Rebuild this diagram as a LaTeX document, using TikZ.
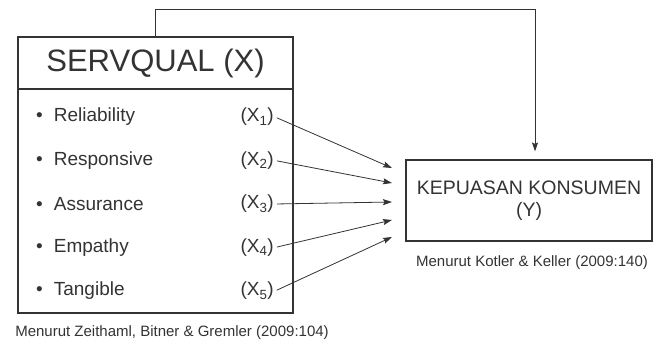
\documentclass[tikz,border=0pt]{standalone}
\usepackage{fontspec}
\setmainfont{Liberation Sans}
\usetikzlibrary{arrows.meta,positioning}
\definecolor{ink}{HTML}{333333}
\begin{document}
\begin{tikzpicture}[x=1pt,y=1pt,ink,
  box/.style={draw,line width=1.1pt,inner sep=0pt},
  arr/.style={line width=0.8pt,-{Stealth[length=9pt,width=6pt,inset=1.5pt]}},
  item/.style={font=\fontsize{19}{23}\selectfont,inner sep=1pt},
  note/.style={font=\fontsize{15}{18}\selectfont}]
\useasboundingbox (0,0) rectangle (655,343);
\node[box,minimum width=275,minimum height=52] (head) at (155.5,280) {\fontsize{31}{36}\selectfont SERVQUAL (X)};
\node[box,minimum width=275,minimum height=224] (body) at (155.5,142) {};
\foreach \i/\name in {1/Reliability,2/Responsive,3/Assurance,4/Empathy,5/Tangible}{
  \node[item,anchor=west] (n\i) at (35,{269.5-43.5*\i}) {\textbullet\hspace{11pt}\name};
  \node[item,anchor=east] (x\i) at (275,{269.5-43.5*\i}) {(X\textsubscript{\i})};
}
\node[box,minimum width=246,minimum height=81,align=center,font=\fontsize{19.5}{22}\selectfont] (kep) at (529,142.5) {KEPUASAN KONSUMEN\\(Y)};
\node[note] (capy) at (532,80) {Menurut Kotler \& Keller (2009:140)};
\node[note] (capx) at (172,10) {Menurut Zeithaml, Bitner \& Gremler (2009:104)};
\foreach \i/\ty in {1/175,2/160,3/141,4/123,5/106}
  \coordinate (t\i) at (392,\ty);
\foreach \i in {1,...,5}
  \draw[arr,shorten <=2pt] (x\i.east) -- (t\i);
\coordinate (top) at (535,334);
\draw[arr] (head.north) |- (top) -- ([xshift=6pt,yshift=8pt]kep.north);
\end{tikzpicture}
\end{document}
